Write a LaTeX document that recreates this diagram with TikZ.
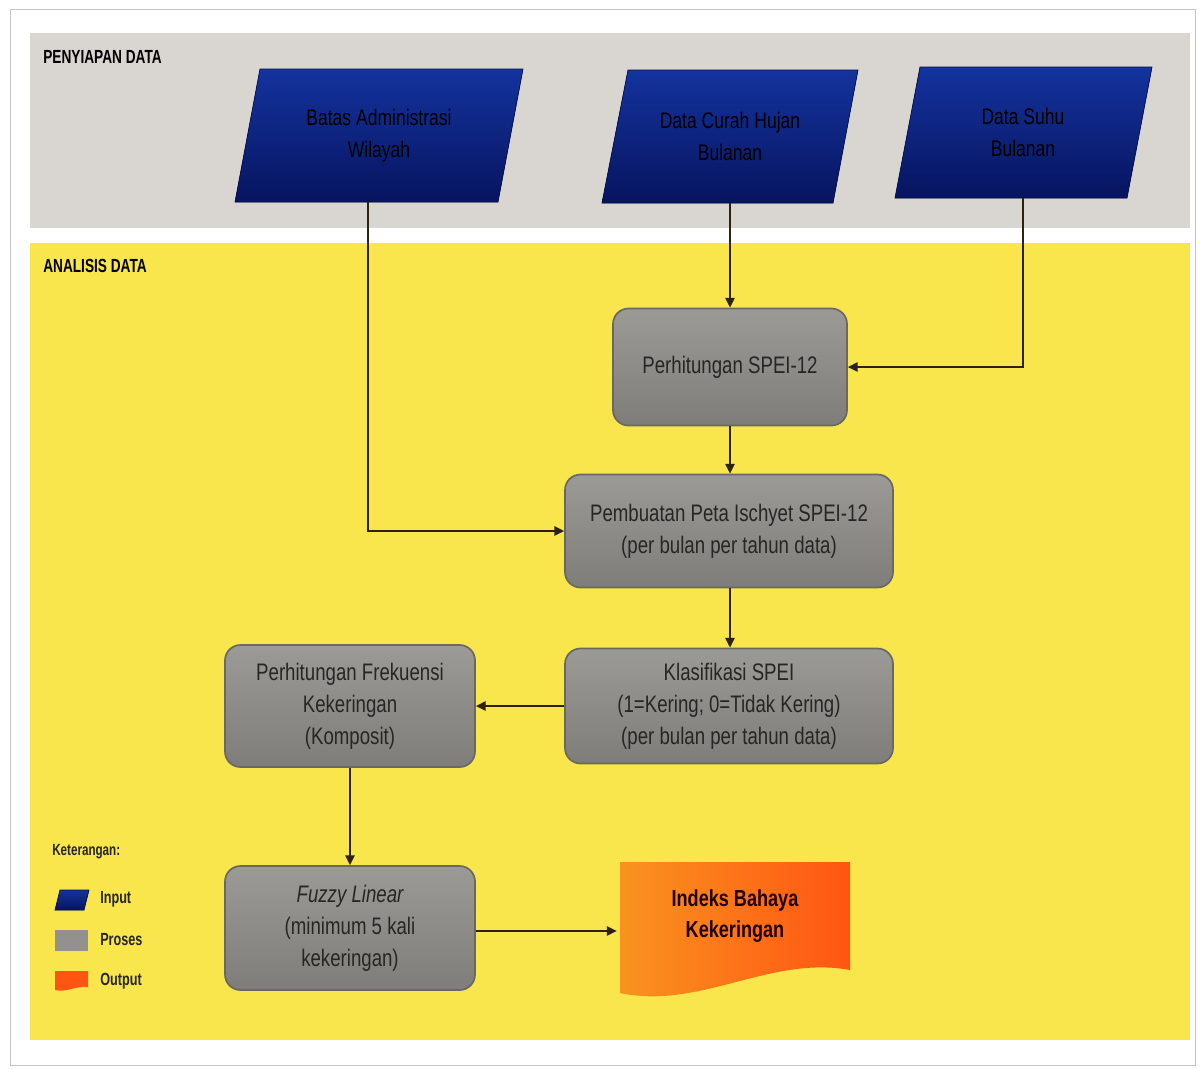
\documentclass[tikz,border=0pt]{standalone}
\usepackage{fontspec}
\setmainfont{Liberation Sans}
\newfontfamily\narrowfont[FakeStretch=0.78]{Liberation Sans}
\newfontfamily\headfont[FakeStretch=0.72]{Liberation Sans}
\usetikzlibrary{calc,arrows.meta}

\definecolor{bandgray}{HTML}{D9D6D1}
\definecolor{bandyellow}{HTML}{F8E64C}
\definecolor{navytop}{HTML}{14339E}
\definecolor{navybot}{HTML}{07145F}
\definecolor{proctop}{HTML}{9B9A96}
\definecolor{procbot}{HTML}{7E7D79}
\definecolor{procline}{HTML}{6A6862}
\definecolor{outleft}{HTML}{F9931F}
\definecolor{outright}{HTML}{FF5512}
\definecolor{linec}{HTML}{2B2214}
\definecolor{framec}{HTML}{C4C4C4}

% one drawing unit
\newcommand{\du}{*0.025cm}

\tikzset{
  heading/.style={font=\headfont\bfseries\fontsize{13.5}{16}\selectfont, anchor=west, inner sep=0pt},
  inbox/.style={draw=none, minimum width={240\du}, minimum height={133\du}, inner sep=0pt,
    align=center, text=black, font=\narrowfont\fontsize{16}{22.7}\selectfont},
  para/.style={top color=navytop, bottom color=navybot, draw=navybot!80!black, line width=0.5pt},
  procbox/.style={rectangle, rounded corners=11pt, top color=proctop, bottom color=procbot,
    draw=procline, line width=1.2pt, align=center, inner sep=0pt, text=black!85,
    font=\narrowfont\fontsize{17}{22.7}\selectfont},
  arr/.style={draw=linec, line width=1.5pt, -{Triangle[length=7pt,width=6.5pt]}},
  legtext/.style={font=\headfont\bfseries\fontsize{12.5}{15}\selectfont, anchor=west, inner sep=0pt, text=black!85},
}

\begin{document}
\begin{tikzpicture}[x=0.025cm, y=-0.025cm]
\useasboundingbox (0,0) rectangle (1200,1068);
\fill[white] (0,0) rectangle (1200,1068);
\draw[framec, line width=0.7pt] (10,9) rectangle (1195,1065);

% stage bands
\fill[bandgray] (30,33) rectangle (1190,228);
\fill[bandyellow] (30,243) rectangle (1190,1040);
\node[heading] (h1) at (43,57) {PENYIAPAN DATA};
\node[heading] (h2) at (43,266) {ANALISIS DATA};

% input parallelograms
\fill[para] (235,202) -- (260,69) -- (523,69) -- (498,202) -- cycle;
\node[inbox] (in1) at (379,135.5) {Batas Administrasi\\Wilayah};
\fill[para] (602,203) -- (628,70) -- (858,70) -- (833,203) -- cycle;
\node[inbox, minimum width={230\du}] (in2) at (730,136.5) {Data Curah Hujan\\Bulanan};
\fill[para] (895,198) -- (920,67) -- (1152,67) -- (1127,198) -- cycle;
\node[inbox, minimum width={232\du}, minimum height={131\du}] (in3) at (1023,132.5) {Data Suhu\\Bulanan};

% process boxes
\node[procbox, minimum width={234\du}, minimum height={117\du}] (perh) at (730,367) {Perhitungan SPEI-12};
\node[procbox, minimum width={328\du}, minimum height={113\du}] (peta) at (729,531) {Pembuatan Peta Ischyet SPEI-12\\(per bulan per tahun data)};
\node[procbox, minimum width={328\du}, minimum height={115\du}] (klas) at (729,706) {Klasifikasi SPEI\\(1=Kering; 0=Tidak Kering)\\(per bulan per tahun data)};
\node[procbox, minimum width={250\du}, minimum height={122\du}] (frek) at (350,706) {Perhitungan Frekuensi\\Kekeringan\\(Komposit)};
\node[procbox, minimum width={250\du}, minimum height={124\du}] (fuzzy) at (350,928) {\itshape Fuzzy Linear\\(minimum 5 kali\\kekeringan)};

% output document
\shade[left color=outleft, right color=outright]
  (620,862) -- (850,862) -- (850,970)
  .. controls (770,955) and (700,1010) .. (620,993) -- cycle;
\node[draw=none, minimum width={230\du}, minimum height={108\du}, inner sep=0pt, align=center,
  text=black!80!red!60!black, font=\narrowfont\bfseries\fontsize{16.5}{22.7}\selectfont]
  (out) at (735,916) {Indeks Bahaya\\Kekeringan};

% connectors
\draw[arr] ($(in1.south)+(-11,0)$) |- (peta.west);
\draw[arr] (in2.south) -- (perh.north);
\draw[arr] (in3.south) |- (perh.east);
\draw[arr] (perh.south) -- (peta.north -| perh.south);
\draw[arr] (peta.south -| perh.south) -- (klas.north -| perh.south);
\draw[arr] (klas.west) -- (frek.east);
\draw[arr] (frek.south) -- (fuzzy.north);
\draw[arr] ($(fuzzy.east)+(0,3)$) -- ($(out.west)+(-3,15)$);

% legend
\node[legtext, font=\headfont\bfseries\fontsize{11.5}{14}\selectfont] (leg) at (52,852) {Keterangan:};
\fill[para] (55,910) -- (60,890) -- (89,890) -- (84,910) -- cycle;
\node[legtext] (lin) at (100,899) {Input};
\fill[proctop!70!procbot] (55,930) rectangle (88,951);
\node[legtext] (lpr) at (100,940) {Proses};
\fill[outright] (55,971) -- (88,971) -- (88,987) .. controls (78,985) and (66,993) .. (55,990) -- cycle;
\node[legtext] (lout) at (100,981) {Output};
\end{tikzpicture}
\end{document}
